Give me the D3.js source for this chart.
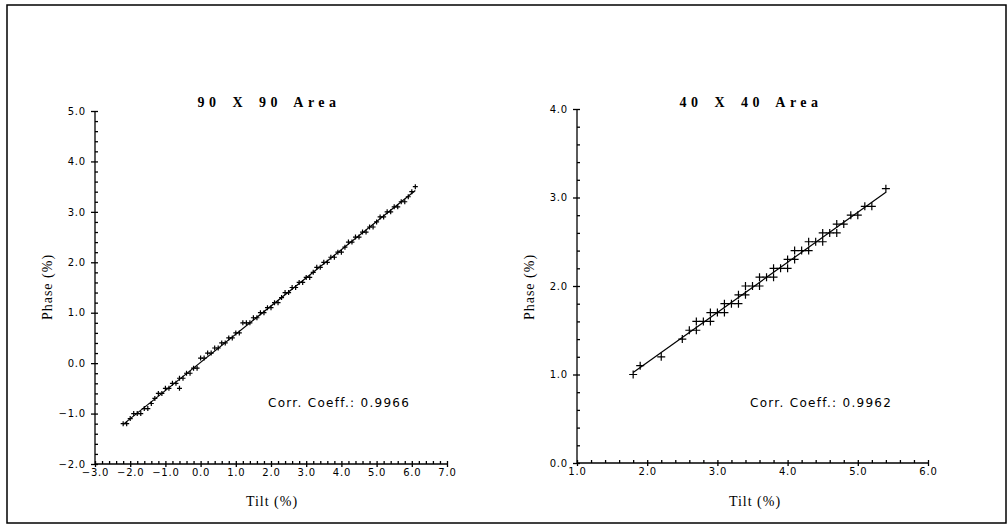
<!DOCTYPE html>
<html>
<head>
<meta charset="utf-8">
<script src="https://cdn.jsdelivr.net/npm/d3@7"></script>
<style>
body { margin: 0; background: #fff; }
svg { display: block; }
.tick text { font-family: "DejaVu Sans", sans-serif; font-size: 10px; letter-spacing: 0.8px; }
.domain, .tick line { stroke-width: 1.3px; }
</style>
</head>
<body>
<svg id="chart" width="1008" height="528"></svg>
<script>
// 90 x 90 area, tilt vs phase (%)
var tiltA = [-2.2,-2.1,-2.0,-1.9,-1.8,-1.7,-1.6,-1.5,-1.4,-1.3,-1.2,-1.1,-1.0,-0.9,-0.8,-0.7,-0.6,-0.6,-0.5,-0.4,-0.3,-0.2,-0.1,
  0.0,0.1,0.2,0.3,0.4,0.5,0.6,0.7,0.8,0.9,1.0,1.1,1.2,1.3,1.4,1.5,1.6,1.7,1.8,1.9,2.0,2.1,2.2,2.3,2.4,2.5,2.6,2.7,2.8,2.9,
  3.0,3.1,3.2,3.3,3.4,3.5,3.6,3.7,3.8,3.9,4.0,4.1,4.2,4.3,4.4,4.5,4.6,4.7,4.8,4.9,5.0,5.1,5.2,5.3,5.4,5.5,5.6,5.7,5.8,5.9,6.0,6.1];
var phaseA = [-1.2,-1.2,-1.1,-1.0,-1.0,-1.0,-0.9,-0.9,-0.8,-0.7,-0.6,-0.6,-0.5,-0.5,-0.4,-0.4,-0.3,-0.5,-0.3,-0.2,-0.2,-0.1,-0.1,
  0.1,0.1,0.2,0.2,0.3,0.3,0.4,0.4,0.5,0.5,0.6,0.6,0.8,0.8,0.8,0.9,0.9,1.0,1.0,1.1,1.1,1.2,1.2,1.3,1.4,1.4,1.5,1.5,1.6,1.6,
  1.7,1.7,1.8,1.9,1.9,2.0,2.0,2.1,2.1,2.2,2.2,2.3,2.4,2.4,2.5,2.5,2.6,2.6,2.7,2.7,2.8,2.9,2.9,3.0,3.0,3.1,3.1,3.2,3.2,3.3,3.4,3.5];

// 40 x 40 area
var tiltB = [1.8,1.9,2.2,2.5,2.6,2.7,2.7,2.8,2.9,2.9,3.0,3.1,3.1,3.2,3.3,3.3,3.4,3.4,3.5,3.6,3.6,3.7,3.8,3.8,3.9,4.0,4.0,
  4.1,4.1,4.2,4.3,4.3,4.4,4.5,4.5,4.6,4.7,4.7,4.8,4.9,5.0,5.1,5.2,5.4];
var phaseB = [1.0,1.1,1.2,1.4,1.5,1.5,1.6,1.6,1.6,1.7,1.7,1.7,1.8,1.8,1.8,1.9,1.9,2.0,2.0,2.0,2.1,2.1,2.1,2.2,2.2,2.2,2.3,
  2.3,2.4,2.4,2.4,2.5,2.5,2.5,2.6,2.6,2.6,2.7,2.7,2.8,2.8,2.9,2.9,3.1];

var titles = ["90 X 90 Area", "40 X 40 Area"];
var corrText = ["Corr. Coeff.: 0.9966", "Corr. Coeff.: 0.9962"];
var xDomains = [[-3, 7], [1, 6]];
var yDomains = [[-2, 5], [0, 4]];

var svg = d3.select("#chart");

svg.append("rect")
  .attr("x", 7).attr("y", 5)
  .attr("width", 999).attr("height", 518)
  .attr("fill", "none").attr("stroke", "#000").attr("stroke-width", 1.5);

var fit = function(xs, ys){
  var mx = d3.mean(xs), my = d3.mean(ys);
  var sxy = d3.sum(xs, function(x, i){ return (x - mx) * (ys[i] - my); });
  var sxx = d3.sum(xs, function(x){ return (x - mx) * (x - mx); });
  var b = sxy / sxx;
  return function(x){ return my + b * (x - mx); };
};

var fmt = function(d){ return d3.format(".1f")(d).replace("-", "\u2212"); };

var drawPanel = function(opt){
  var x = d3.scaleLinear().domain(opt.xDomain).range([opt.left, opt.right]);
  var y = d3.scaleLinear().domain(opt.yDomain).range([opt.bottom, opt.top]);
  var g = svg.append("g");

  var xMinor = d3.range(opt.xDomain[0], opt.xDomain[1] + 0.001, 0.2);
  var yMinor = d3.range(opt.yDomain[0], opt.yDomain[1] + 0.001, 0.2);
  var xMajor = d3.range(opt.xDomain[0], opt.xDomain[1] + 0.001, 1);
  var yMajor = d3.range(opt.yDomain[0], opt.yDomain[1] + 0.001, 1);

  // minor ticks, inside
  g.append("g")
    .attr("transform", "translate(0," + opt.bottom + ")")
    .call(d3.axisTop(x).tickValues(xMinor).tickSize(3).tickFormat(""))
    .call(function(a){ a.select(".domain").remove(); });
  g.append("g")
    .attr("transform", "translate(" + opt.left + ",0)")
    .call(d3.axisRight(y).tickValues(yMinor).tickSize(3).tickFormat(""))
    .call(function(a){ a.select(".domain").remove(); });

  // major ticks with labels
  g.append("g")
    .attr("transform", "translate(0," + opt.bottom + ")")
    .call(d3.axisBottom(x).tickValues(xMajor).tickSize(3).tickSizeOuter(0).tickPadding(2).tickFormat(fmt))
    .call(function(a){ a.select(".domain").attr("d", "M" + opt.left + ",0H" + opt.right); });
  g.append("g")
    .attr("transform", "translate(" + opt.left + ",0)")
    .call(d3.axisLeft(y).tickValues(yMajor).tickSize(4).tickSizeOuter(0).tickPadding(5).tickFormat(fmt))
    .call(function(a){ a.select(".domain").attr("d", "M0," + opt.bottom + "V" + opt.top); });

  // fitted line
  var f = fit(opt.xs, opt.ys);
  var x0 = d3.min(opt.xs), x1 = d3.max(opt.xs);
  g.append("line")
    .attr("x1", x(x0)).attr("y1", y(f(x0)))
    .attr("x2", x(x1)).attr("y2", y(f(x1)))
    .attr("stroke", "#000").attr("stroke-width", 1.2);

  // plus markers
  var s = opt.mark;
  g.selectAll("path.pt")
    .data(opt.xs)
    .enter().append("path")
    .attr("class", "pt")
    .attr("d", function(d, i){
      var px = x(d), py = y(opt.ys[i]);
      return "M" + (px - s) + "," + py + "H" + (px + s) + "M" + px + "," + (py - s) + "V" + (py + s);
    })
    .attr("stroke", "#000").attr("stroke-width", 1.2).attr("fill", "none");

  g.append("text")
    .attr("x", opt.titleX).attr("y", 107)
    .attr("text-anchor", "middle")
    .style("font-family", "'Liberation Serif', serif").style("font-weight", "bold")
    .style("font-size", "14px").style("letter-spacing", "4.5px").style("word-spacing", "4px")
    .text(opt.title);

  g.append("text")
    .attr("transform", "translate(" + opt.yLabelX + ",287) rotate(-90)")
    .attr("text-anchor", "middle")
    .style("font-family", "'Liberation Serif', serif").style("font-size", "14px")
    .style("letter-spacing", "1px")
    .text("Phase (%)");

  g.append("text")
    .attr("x", opt.xLabelX).attr("y", 506)
    .attr("text-anchor", "middle")
    .style("font-family", "'Liberation Serif', serif").style("font-size", "14px")
    .style("letter-spacing", "1px")
    .text("Tilt (%)");

  g.append("text")
    .attr("x", opt.corrX).attr("y", 407)
    .style("font-family", "'DejaVu Sans', sans-serif").style("font-size", "12px")
    .style("letter-spacing", "1.3px")
    .text(opt.corr);
};

drawPanel({xDomain: xDomains[0], yDomain: yDomains[0], left: 95, right: 447, top: 111, bottom: 464,
  xs: tiltA, ys: phaseA, mark: 2.5, title: titles[0], corr: corrText[0],
  titleX: 269, yLabelX: 52, xLabelX: 272, corrX: 268});
drawPanel({xDomain: xDomains[1], yDomain: yDomains[1], left: 577, right: 928, top: 109, bottom: 463,
  xs: tiltB, ys: phaseB, mark: 4, title: titles[1], corr: corrText[1],
  titleX: 751, yLabelX: 534, xLabelX: 755, corrX: 750});
</script>
</body>
</html>
